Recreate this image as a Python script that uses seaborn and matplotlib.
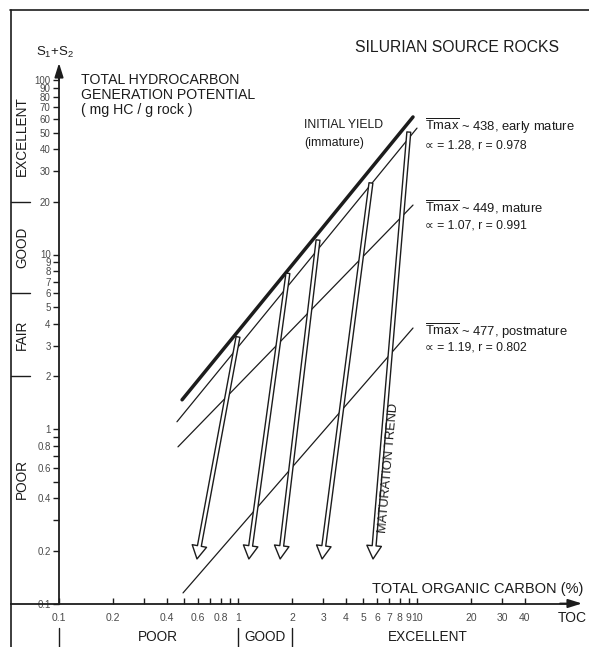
import numpy as np
import pandas as pd
import matplotlib
matplotlib.use("Agg")
import matplotlib.pyplot as plt
import seaborn as sns
from matplotlib.patches import FancyArrowPatch
from matplotlib.lines import Line2D
from matplotlib.ticker import FixedLocator, FixedFormatter, NullLocator

# ---------------- data ----------------
line_series = ["initial", "t438", "t449", "t477"]
line_toc_start = [0.487, 0.456, 0.462, 0.493]
line_toc_end = [9.5, 10.0, 9.5, 9.5]
line_hc_start = [1.47, 1.10, 0.79, 0.115]
line_hc_end = [61.4, 53.0, 19.2, 3.79]

arrow_toc_top = [1.0, 1.90, 2.80, 5.53, 9.0]
arrow_hc_top = [3.37, 7.8, 12.1, 25.7, 50.3]
arrow_toc_bottom = [0.59, 1.15, 1.72, 2.95, 5.68]
arrow_hc_bottom = [0.18, 0.18, 0.18, 0.18, 0.18]

y_ticks = [0.1, 0.2, 0.3, 0.4, 0.5, 0.6, 0.7, 0.8, 0.9, 1, 2, 3, 4, 5, 6, 7, 8, 9,
           10, 20, 30, 40, 50, 60, 70, 80, 90, 100]
y_tick_labels = ["0.1", "0.2", "", "0.4", "", "0.6", "", "0.8", "", "1", "2", "3", "4",
                 "5", "6", "7", "8", "9", "10", "20", "30", "40", "50", "60", "70",
                 "80", "90", "100"]
x_ticks = [0.1, 0.2, 0.3, 0.4, 0.5, 0.6, 0.7, 0.8, 0.9, 1, 2, 3, 4, 5, 6, 7, 8, 9,
           10, 20, 30, 40]
x_tick_labels = ["0.1", "0.2", "", "0.4", "", "0.6", "", "0.8", "", "1", "2", "3", "4",
                 "5", "6", "7", "8", "9", "10", "20", "30", "40"]

hc_class_bounds = [2, 6, 20]
hc_class_names = ["POOR", "FAIR", "GOOD", "EXCELLENT"]
hc_class_label_pos = [0.52, 3.46, 11.0, 48.0]
toc_class_bounds = [0.1, 1, 2]
toc_class_names = ["POOR", "GOOD", "EXCELLENT"]
toc_class_label_pos = [0.355, 1.41, 11.5]

line_labels = [
    (r"$\overline{\mathrm{Tmax}}$ ~ 438, early mature", "∝ = 1.28, r = 0.978"),
    (r"$\overline{\mathrm{Tmax}}$ ~ 449, mature", "∝ = 1.07, r = 0.991"),
    (r"$\overline{\mathrm{Tmax}}$ ~ 477, postmature", "∝ = 1.19, r = 0.802"),
]

# ---------------- layout ----------------
W, H = 589, 647
PX0, PDX = 238.0, 179.0      # pixel x of TOC=1, pixels per decade
PY0, PDY = 429.0, 174.5      # pixel y of HC=1, pixels per decade


def dx(px):
    return 10 ** ((px - PX0) / PDX)


def dy(py):
    return 10 ** ((PY0 - py) / PDY)


sns.set_theme(style="white")
plt.rcParams["font.family"] = ["Liberation Sans", "DejaVu Sans"]
plt.rcParams["mathtext.fontset"] = "custom"
plt.rcParams["mathtext.rm"] = "Liberation Sans"
plt.rcParams["mathtext.it"] = "Liberation Sans:italic"

INK = "#1c1c1c"
GRAY = "#4a4a4a"

fig = plt.figure(figsize=(W / 100, H / 100), dpi=100)
ax = fig.add_axes([0, 0, 1, 1])
ax.set_facecolor("white")
ax.set_xscale("log")
ax.set_yscale("log")
ax.set_xlim(dx(0), dx(W))
ax.set_ylim(dy(H), dy(0))

# axes spines as the TOC / S1+S2 axes
for s in ["top", "right"]:
    ax.spines[s].set_visible(False)
ax.spines["left"].set_position(("data", 0.1))
ax.spines["bottom"].set_position(("data", 0.1))
ax.spines["left"].set_bounds(0.1, dy(72))
ax.spines["bottom"].set_bounds(dx(11), dx(572))
for s in ["left", "bottom"]:
    ax.spines[s].set_color(INK)
    ax.spines[s].set_linewidth(1.3)

ax.yaxis.set_major_locator(FixedLocator(y_ticks))
ax.yaxis.set_major_formatter(FixedFormatter(y_tick_labels))
ax.yaxis.set_minor_locator(NullLocator())
ax.xaxis.set_major_locator(FixedLocator(x_ticks))
ax.xaxis.set_major_formatter(FixedFormatter(x_tick_labels))
ax.xaxis.set_minor_locator(NullLocator())
ax.tick_params(axis="y", direction="out", length=4.5, width=1.0, pad=1.5,
               labelsize=7, labelcolor=GRAY, color=INK, left=True)
ax.tick_params(axis="x", direction="in", length=4, width=1.0, pad=7,
               labelsize=7.5, labelcolor=GRAY, color=INK, bottom=True)
ax.grid(False)

# axis arrowheads
ax.annotate("", xy=(0.1, dy(63)), xytext=(0.1, dy(80)),
            arrowprops=dict(arrowstyle="-|>,head_width=0.22,head_length=0.7",
                            color=INK, lw=1.3, shrinkA=0, shrinkB=0))
ax.annotate("", xy=(dx(582), 0.1), xytext=(dx(560), 0.1),
            arrowprops=dict(arrowstyle="-|>,head_width=0.22,head_length=0.7",
                            color=INK, lw=1.3, shrinkA=0, shrinkB=0))

# regression lines
line_widths = [2.5, 0.9, 0.9, 0.9]
for name, x0, x1, y0, y1, lw in zip(line_series, line_toc_start, line_toc_end,
                                    line_hc_start, line_hc_end, line_widths):
    d = pd.DataFrame({"toc": [x0, x1], "hc": [y0, y1]})
    sns.lineplot(data=d, x="toc", y="hc", ax=ax, color=INK, lw=lw,
                 sort=False, estimator=None, legend=False)
ax.set_xlabel("")
ax.set_ylabel("")

# maturation arrows (hollow)
for xt, yt, xb, yb in zip(arrow_toc_top, arrow_hc_top, arrow_toc_bottom, arrow_hc_bottom):
    arr = FancyArrowPatch((xt, yt), (xb, yb),
                          arrowstyle="simple,head_width=10.5,head_length=9.5,tail_width=2.8",
                          mutation_scale=1, fc="white", ec=INK, lw=1.0,
                          shrinkA=0, shrinkB=0, zorder=3)
    ax.add_patch(arr)

# frame
fig.add_artist(Line2D([11 / W, 11 / W], [0, 1 - 10 / H], color=INK, lw=1.2))
fig.add_artist(Line2D([10 / W, 1], [1 - 10 / H, 1 - 10 / H], color=INK, lw=1.2))

# HC class brackets on the left
for b in hc_class_bounds:
    ax.plot([dx(11), dx(30)], [b, b], color=INK, lw=1.0)
for name, yv in zip(hc_class_names, hc_class_label_pos):
    ax.text(dx(22), yv, name, rotation=90, ha="center", va="center",
            fontsize=9.8, color=INK)

# TOC class brackets at the bottom
for b in toc_class_bounds:
    ax.plot([b, b], [dy(628), dy(647)], color=INK, lw=1.0)
for name, xv in zip(toc_class_names, toc_class_label_pos):
    ax.text(xv, dy(637), name, ha="center", va="center", fontsize=9.8, color=INK)

# texts
def ftext(px, py, s, **kw):
    kw.setdefault("color", INK)
    fig.text(px / W, 1 - py / H, s, **kw)


ftext(55, 52, "S$_1$+S$_2$", ha="center", va="center", fontsize=9.5)
ftext(81, 73, "TOTAL HYDROCARBON\nGENERATION POTENTIAL\n( mg HC / g rock )",
      ha="left", va="top", fontsize=10.2, linespacing=1.1)
ftext(355, 47, "SILURIAN SOURCE ROCKS", ha="left", va="center", fontsize=11.3)
ftext(304, 125, "INITIAL YIELD", ha="left", va="center", fontsize=8.8)
ftext(304, 143, "(immature)", ha="left", va="center", fontsize=8.8)

label_rows = [(126, 145), (207, 225), (331, 348)]
for (l1, l2), (r1, r2) in zip(line_labels, label_rows):
    ftext(425, r1, l1, ha="left", va="center", fontsize=9.4)
    ftext(425, r2, l2, ha="left", va="center", fontsize=8.8)

ftext(389, 468, "MATURATION TREND", ha="center", va="center", fontsize=9.3,
      rotation=85)
ftext(583, 589, "TOTAL ORGANIC CARBON (%)", ha="right", va="center", fontsize=10.5)
ftext(572, 618, "TOC", ha="center", va="center", fontsize=10)

fig.savefig("out.png", dpi=100, facecolor="white")
